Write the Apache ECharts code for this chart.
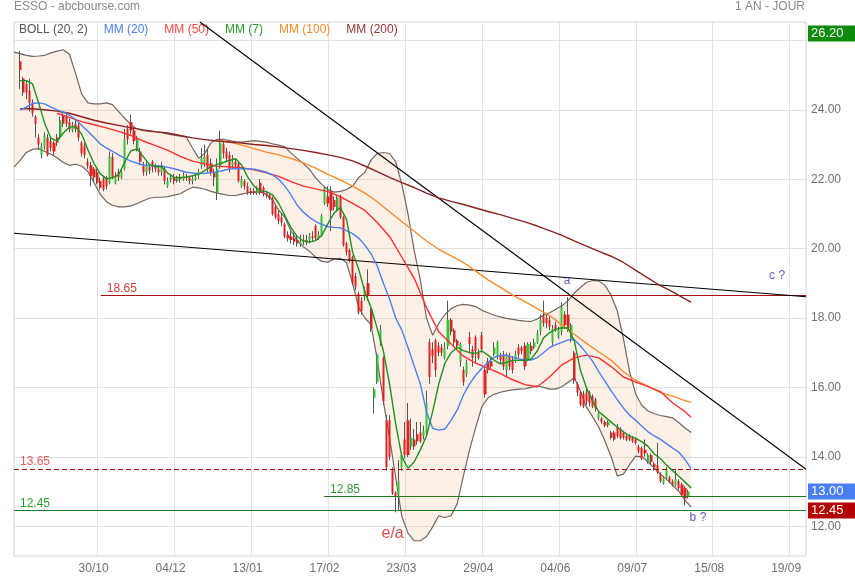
<!DOCTYPE html>
<html><head><meta charset="utf-8">
<script src="https://cdn.jsdelivr.net/npm/echarts@6/dist/echarts.min.js"></script>
<style>html,body{margin:0;padding:0;background:#fff}#c{width:855px;height:580px}</style>
</head><body><div id="c"></div>
<script>
// ---------- axis texts ----------
const dateLabels = ['30/10','04/12','13/01','17/02','23/03','29/04','04/06','09/07','15/08','19/09'];
const dateDays   = [27, 52, 77, 102, 127, 152, 177, 202, 227, 252];
const yTicks = [12, 14, 16, 18, 20, 22, 24, 26];
const yTickLabels = [12, 14, 16, 18, 20, 22, 24];

// ---------- daily candles [open, close, low, high], first at trading day 2 ----------
const firstCandleDay = 2;
const ohlc = [
[25.4,25.15,24.6,25.7],[24.9,24.5,24.4,24.95],[24.75,24.5,24.3,24.85],[24.55,24.2,23.95,24.9],[24.2,23.9,23.8,24.3],[23.8,23.6,23.2,23.85],[23.2,23.0,22.85,23.3],[22.7,22.95,22.6,23.05],[22.95,23.25,22.85,23.35],[23.2,22.7,22.65,23.3],
[23.1,22.9,22.8,23.2],[23.05,22.8,22.7,23.1],[23.2,23.05,22.95,23.3],[23.2,23.7,23.15,23.8],[23.85,23.6,23.5,23.95],[23.8,23.6,23.5,23.9],[23.65,23.45,23.35,23.75],[23.4,23.55,23.35,23.65],[23.6,23.45,23.35,23.7],[23.55,23.2,23.1,23.65],
[23.05,22.75,22.65,23.1],[22.95,22.7,22.6,23.05],[22.5,22.4,22.3,22.6],[22.4,22.1,21.8,22.5],[22.3,22.05,21.95,22.35],[22.2,21.9,21.85,22.3],[21.95,21.75,21.7,22.05],[22.0,21.7,21.65,22.1],[22.05,21.8,21.7,22.1],[21.9,22.65,21.85,22.8],
[22.65,22.05,22.0,22.75],[21.9,22.1,21.85,22.2],[22.2,22.05,21.95,22.3],[22.05,22.2,22.0,22.3],[22.3,23.15,22.25,23.45],[23.45,23.15,23.0,23.55],[23.65,23.4,23.3,23.85],[23.4,23.1,23.0,23.5],[22.85,23.15,22.8,23.25],[22.8,22.5,22.4,22.9],
[22.4,22.2,22.1,22.5],[22.2,22.4,22.1,22.5],[22.35,22.25,22.15,22.45],[22.5,22.35,22.2,22.55],[22.35,22.3,22.2,22.45],[22.3,22.2,22.1,22.4],[22.2,22.4,22.1,22.5],[22.3,21.95,21.85,22.35],[21.8,21.95,21.75,22.05],[22.0,22.05,21.9,22.15],
[22.05,21.95,21.85,22.15],[21.95,22.05,21.9,22.1],[22.05,22.0,21.9,22.15],[22.0,22.1,21.95,22.2],[22.1,22.05,21.95,22.15],[22.05,21.95,21.85,22.1],[21.95,22.0,21.85,22.1],[22.0,22.05,21.95,22.15],[22.1,22.2,22.0,22.3],[22.4,22.6,22.3,22.9],
[22.45,22.65,22.35,23.0],[22.7,22.3,22.2,22.85],[22.45,22.2,22.1,22.6],[22.2,22.05,21.8,22.3],[21.6,22.3,21.4,22.6],[22.35,23.05,22.3,23.4],[23.0,22.75,22.6,23.1],[22.8,22.6,22.5,22.9],[22.7,22.3,22.2,22.8],[22.4,22.5,22.3,22.7],
[22.5,22.4,22.3,22.6],[22.45,21.95,21.9,22.5],[21.8,22.0,21.75,22.1],[21.95,21.8,21.7,22.0],[21.8,21.6,21.55,21.9],[21.65,21.62,21.55,21.75],[21.65,21.6,21.55,21.75],[21.6,21.7,21.55,21.8],[21.9,21.6,21.55,22.0],[21.75,21.6,21.5,21.8],
[21.6,21.55,21.45,21.65],[21.55,21.45,21.4,21.6],[21.45,21.0,20.95,21.5],[21.2,20.9,20.85,21.25],[21.0,20.8,20.7,21.1],[20.9,20.75,20.65,21.0],[20.7,20.35,20.3,20.75],[20.4,20.3,20.2,20.5],[20.35,20.25,20.15,20.5],[20.3,20.2,20.1,20.45],
[20.25,20.15,20.05,20.4],[20.1,20.2,20.05,20.4],[20.2,20.25,20.1,20.4],[20.25,20.2,20.1,20.4],[20.25,20.35,20.15,20.45],[20.35,20.3,20.2,20.5],[20.65,20.3,20.25,20.7],[20.3,20.4,20.25,20.5],[20.4,20.95,20.35,21.0],[21.3,21.75,21.25,21.8],
[21.5,21.3,21.2,21.8],[21.65,21.1,20.5,21.8],[21.4,21.2,21.1,21.5],[21.15,21.48,21.1,21.55],[21.5,20.9,20.85,21.55],[20.9,20.1,20.05,20.95],[20.15,19.9,19.8,20.2],[19.95,19.65,19.6,20.0],[19.75,19.0,18.95,19.8],[19.2,18.9,18.8,19.3],
[18.7,18.15,18.1,18.75],[18.5,18.2,18.1,18.6],[18.6,18.8,18.5,18.9],[19.0,18.65,18.5,19.4],[18.25,17.7,17.6,18.3],[15.7,15.95,15.25,16.0],[16.15,16.95,16.1,17.0],[17.3,17.65,17.2,17.8],[16.85,15.6,15.5,16.9],[15.05,13.7,13.6,15.2],
[15.05,14.0,13.9,15.2],[13.65,12.95,12.9,13.7],[12.97,12.85,12.4,13.0],[12.9,13.3,12.45,13.9],[13.7,14.05,13.6,14.1],[14.5,14.05,13.95,15.0],[15.05,14.05,14.0,15.55],[14.3,14.55,14.2,15.1],[14.5,14.3,14.2,14.8],[14.65,14.45,14.35,15.0],
[14.7,14.45,14.4,15.0],[14.6,14.75,14.5,14.9],[14.7,15.55,14.65,15.9],[17.3,16.3,16.1,17.4],[17.1,16.9,16.7,17.3],[17.35,16.5,16.3,17.4],[17.2,17.0,16.9,17.3],[17.15,17.0,16.9,17.25],[16.85,17.15,16.8,17.3],[17.2,17.95,17.1,18.5],
[17.95,17.6,17.5,18.0],[17.65,17.3,17.2,17.7],[17.35,17.2,17.1,17.4],[16.75,17.25,16.6,17.3],[16.5,16.15,16.05,16.6],[16.4,16.7,16.3,16.8],[17.45,17.25,17.0,17.6],[17.1,16.85,16.6,17.2],[17.45,17.05,16.7,17.5],[17.0,16.85,16.8,17.1],
[17.5,17.1,17.0,17.6],[16.5,15.8,15.7,16.6],[16.75,16.5,16.4,16.85],[16.75,16.6,16.5,16.85],[16.95,17.15,16.9,17.3],[16.9,17.3,16.8,17.35],[16.9,16.8,16.7,17.0],[16.95,16.6,16.5,17.05],[16.5,16.95,16.3,17.0],[16.9,16.6,16.5,17.0],
[16.8,16.5,16.4,16.9],[16.8,16.95,16.7,17.05],[17.15,16.95,16.85,17.25],[17.15,17.05,16.95,17.2],[17.2,16.6,16.5,17.3],[16.8,17.25,16.75,17.3],[17.2,17.05,16.95,17.3],[17.15,17.3,17.1,17.4],[17.3,17.55,17.25,17.65],[17.6,17.95,17.5,18.1],
[18.05,17.85,17.75,18.5],[18.0,17.85,17.7,18.15],[17.95,17.75,17.65,18.05],[17.3,17.7,17.2,17.8],[17.8,17.65,17.6,17.9],[17.45,17.65,17.4,17.75],[17.6,18.3,17.5,18.45],[18.1,17.8,17.7,18.2],[18.1,17.7,17.6,18.6],[17.4,17.8,17.3,17.85],
[17.0,16.2,16.1,17.05],[16.1,15.85,15.75,16.15],[15.85,15.5,15.45,15.9],[15.8,15.45,15.4,15.9],[15.85,15.6,15.5,15.95],[15.85,15.55,15.45,15.9],[15.75,15.45,15.4,15.8],[15.65,15.4,15.3,15.7],[15.1,15.25,15.05,15.3],[15.1,15.0,14.95,15.15],
[15.0,14.9,14.85,15.05],[14.9,15.0,14.85,15.05],[14.7,14.55,14.5,14.75],[14.7,14.5,14.45,14.75],[14.85,14.6,14.55,14.95],[14.8,14.55,14.5,14.85],[14.7,14.55,14.5,14.75],[14.6,14.5,14.45,14.65],[14.6,14.5,14.45,14.65],[14.55,14.45,14.4,14.6],
[14.5,14.4,14.35,14.55],[14.3,14.15,14.1,14.35],[14.25,13.95,13.9,14.3],[14.2,14.1,14.0,14.5],[13.85,14.05,13.8,14.1],[14.05,13.85,13.75,14.1],[13.8,13.7,13.6,13.85],[13.75,13.55,13.5,14.4],[13.5,13.3,13.25,13.55],[13.25,13.4,13.2,13.45],
[13.4,13.65,13.35,13.7],[13.4,13.3,13.25,13.45],[13.3,13.2,13.15,13.35],[13.2,13.35,13.15,13.65],[13.3,13.1,13.05,13.35],[13.2,12.9,12.85,13.25],[13.1,12.8,12.6,13.15],[12.85,13.0,12.8,13.05]
];

// ---------- indicator readings (sampled trading days) ----------
function dayList(from, to, step) { const a = []; for (let d = from; d <= to; d += step) a.push(d); if (a[a.length - 1] !== to) a.push(to); return a; }
const bandDays  = dayList(0, 220, 2);
const fastDays  = dayList(2, 220, 2);
const mm200Days = dayList(2, 220, 4);
const mm50Days  = dayList(14, 220, 4);
const mm100Days = dayList(66, 220, 4);

const bollUpper = [
25.66,25.62,25.57,25.54,25.55,25.57,25.64,25.69,25.73,25.6,
25.05,24.45,24.2,24.17,24.17,24.2,24.15,23.95,23.75,23.58,
23.45,23.4,23.38,23.36,23.34,23.3,23.27,23.24,23.21,22.9,
22.6,22.75,23.05,23.15,23.15,23.11,23.08,23.07,23.09,23.11,
23.09,23.07,23.02,22.98,22.93,22.75,22.6,22.45,22.28,22.04,
21.85,21.7,21.63,21.65,21.7,21.8,22.05,22.2,22.55,22.74,
22.77,22.74,22.5,21.85,21.0,19.95,19.1,18.0,17.5,17.85,
18.1,18.27,18.36,18.39,18.37,18.33,18.22,18.15,18.08,18.03,
17.99,17.96,17.93,17.91,17.9,17.97,18.08,18.15,18.25,18.35,
18.5,18.72,18.88,19.03,19.08,19.07,18.94,18.65,18.2,17.4,
16.45,15.8,15.48,15.32,15.24,15.19,15.16,15.12,14.98,14.83,
14.7];
const bollLower = [
22.35,22.54,22.77,22.86,22.88,22.8,22.72,22.62,22.48,22.4,
22.43,22.38,22.22,21.9,21.57,21.35,21.25,21.2,21.2,21.23,
21.3,21.38,21.45,21.48,21.48,21.5,21.54,21.58,21.68,21.77,
21.75,21.71,21.65,21.6,21.56,21.53,21.53,21.57,21.61,21.63,
21.63,21.56,21.4,21.1,20.9,20.5,20.25,20.05,19.92,19.75,
19.63,19.61,19.7,19.72,19.6,19.0,18.3,18.0,17.8,16.8,
15.6,14.55,13.4,12.28,11.8,11.58,11.58,11.7,11.98,12.3,
12.25,12.3,12.65,13.45,14.2,14.85,15.45,15.7,15.8,15.86,
15.9,15.93,15.95,15.96,16.0,16.04,16.0,15.95,15.95,16.02,
16.15,16.28,15.9,15.43,15.15,14.85,14.45,14.0,13.45,13.5,
13.78,14.02,14.0,13.85,13.68,13.5,13.35,13.18,13.0,12.75,
12.55];
const mm7 = [
24.84,24.84,24.75,24.2,23.6,23.18,23.1,23.33,23.5,23.52,
23.3,22.85,22.45,22.16,22.01,22.04,22.13,22.5,22.82,22.87,
22.65,22.42,22.36,22.36,22.17,22.06,22.05,22.06,22.1,22.15,
22.25,22.36,22.42,22.48,22.54,22.59,22.4,22.05,21.8,21.67,
21.64,21.55,21.3,20.95,20.6,20.35,20.22,20.19,20.23,20.38,
20.72,21.03,21.18,20.85,19.9,19.4,18.75,18.3,17.7,17.05,
16.1,14.95,14.0,13.67,13.85,14.2,14.6,15.3,16.1,16.7,
17.0,17.15,17.06,17.0,16.98,17.05,16.93,16.78,16.68,16.72,
16.78,16.78,16.78,16.82,17.05,17.42,17.58,17.67,17.72,17.71,
17.35,16.5,15.98,15.6,15.3,15.15,15.0,14.85,14.72,14.6,
14.53,14.43,14.3,14.08,13.95,13.76,13.6,13.44,13.27,13.1];
const mm20 = [
23.99,24.08,24.18,24.2,24.17,24.08,24.0,23.93,23.85,23.72,
23.55,23.38,23.2,23.02,22.9,22.8,22.7,22.6,22.52,22.46,
22.41,22.39,22.39,22.38,22.34,22.3,22.25,22.2,22.18,22.16,
22.17,22.19,22.21,22.25,22.29,22.3,22.3,22.3,22.29,22.25,
22.2,22.12,22.0,21.8,21.55,21.25,21.05,20.9,20.78,20.7,
20.63,20.61,20.6,20.52,20.43,20.3,20.1,19.85,19.5,19.0,
18.55,18.0,17.65,17.15,16.62,16.1,15.3,14.82,14.77,14.8,
15.05,15.35,15.78,16.1,16.35,16.55,16.72,16.87,16.92,16.93,
16.87,16.82,16.79,16.79,16.86,17.0,17.15,17.23,17.3,17.37,
17.38,17.2,16.98,16.75,16.45,16.18,15.9,15.65,15.4,15.2,
15.05,14.88,14.72,14.6,14.5,14.38,14.25,14.13,13.92,13.66];
const mm50 = [
23.9,23.78,23.66,23.57,23.48,23.38,23.26,23.1,22.97,22.83,
22.66,22.52,22.44,22.37,22.36,22.33,22.27,22.18,22.08,21.93,
21.8,21.72,21.64,21.5,21.3,21.1,20.75,20.35,19.75,19.15,
18.3,17.6,17.25,16.9,16.7,16.55,16.4,16.22,16.08,16.02,
16.3,16.65,16.85,16.93,16.85,16.6,16.3,16.15,16.02,15.88,
15.55,15.3,15.14];
const mm100 = [
23.12,23.07,22.98,22.88,22.78,22.7,22.6,22.47,22.32,22.14,
21.98,21.8,21.6,21.35,21.06,20.78,20.5,20.22,19.98,19.79,
19.6,19.35,19.1,18.88,18.66,18.47,18.27,18.07,17.8,17.53,
17.27,17.02,16.78,16.45,16.2,16.03,15.85,15.75,15.62,15.57];
const mm200 = [
24.03,24.03,24.0,23.96,23.9,23.8,23.7,23.62,23.55,23.48,
23.42,23.37,23.33,23.26,23.19,23.14,23.1,23.07,23.04,23.0,
22.97,22.93,22.88,22.83,22.77,22.7,22.63,22.53,22.38,22.22,
22.05,21.9,21.76,21.6,21.46,21.36,21.27,21.17,21.07,20.98,
20.87,20.77,20.65,20.52,20.38,20.22,20.07,19.92,19.78,19.6,
19.37,19.15,18.93,18.75,18.55,18.46];

// ---------- drawn levels / trend lines / notes ----------
const xMax = 257.3, yMin = 11.141, yMax = 26.53;
const levelValues = [18.65, 13.65, 12.85, 12.45];
const levelStartDays = [28.2, 0, 100.7, 0];
const trendA = [[60.4, 26.53], [257.3, 13.64]];
const trendB = [[0, 20.44], [257.3, 18.61]];
const tagValues = [26.20, 13.00, 12.45];
const noteTexts = ['a', 'b ?', 'c ?', 'e/a'];
const noteDays  = [179.7, 222.2, 247.9, 123.0];
const noteValues= [19.07, 12.24, 19.21, 11.80];

// ---------- build ----------
const pairs = (days, vals) => vals.map((v, k) => [days[k], v]);
const candleData = ohlc.map((d, k) => [firstCandleDay + k, d[0], d[1], d[2], d[3]]);
const FONT = "'Liberation Sans', Arial, Helvetica, sans-serif";

function maLine(name, days, vals, color) {
  return { name, type: 'line', data: pairs(days, vals), symbol: 'none', showSymbol: false,
    lineStyle: { color, width: 1.4 }, itemStyle: { color }, silent: true, z: 5 };
}
const lvlStyles = [
  { line: { color: '#a81010', width: 1, type: 'solid' }, text: '#d43a3a' },
  { line: { color: '#a81010', width: 1, type: [5, 3] }, text: '#e25b5b' },
  { line: { color: '#1c7c1c', width: 1, type: 'solid' }, text: '#2e9c2e' },
  { line: { color: '#1c7c1c', width: 1, type: 'solid' }, text: '#2e9c2e' }
];
const markData = levelValues.map((v, k) => [
  { coord: [levelStartDays[k], v], lineStyle: lvlStyles[k].line,
    label: { show: true, position: 'insideStartTop', formatter: v.toFixed(2), color: lvlStyles[k].text, fontSize: 12, distance: [6, 1] } },
  { coord: [xMax, v] }
]);
markData.push([{ coord: trendA[0], lineStyle: { color: '#000', width: 1.1, type: 'solid' }, label: { show: false } }, { coord: trendA[1] }]);
markData.push([{ coord: trendB[0], lineStyle: { color: '#000', width: 1.1, type: 'solid' }, label: { show: false } }, { coord: trendB[1] }]);

const tagColors = ['#0b8a0b', '#4a7ff3', '#b30000'];
const tagData = tagValues.map((v, k) => ({ yAxis: v, lineStyle: { color: 'rgba(0,0,0,0)', width: 1 },
  label: { show: true, position: 'end', formatter: v.toFixed(2), color: '#fff', backgroundColor: tagColors[k],
           padding: [2, 14, 1, 3], fontSize: 13, distance: 2 } }));

const noteColors = ['#34349c', '#34349c', '#34349c', '#cc2222'];
const noteSizes = [12, 12, 12, 16];
const noteData = noteTexts.map((t, k) => ({ value: [noteDays[k], noteValues[k]],
  label: { show: true, position: 'inside', formatter: t, color: noteColors[k], fontSize: noteSizes[k] } }));

const option = {
  animation: false,
  textStyle: { fontFamily: FONT },
  title: [
    { text: 'ESSO - abcbourse.com', left: 14, top: 1, padding: 0, textStyle: { fontSize: 12, fontWeight: 'normal', color: '#8a8a8a', fontFamily: FONT } },
    { text: '1 AN - JOUR', right: 50, top: 1, padding: 0, textStyle: { fontSize: 12, fontWeight: 'normal', color: '#8a8a8a', fontFamily: FONT } }
  ],
  legend: {
    left: 14, top: 24, padding: 0, itemWidth: 0, itemHeight: 0, itemGap: 10, selectedMode: false,
    textStyle: { fontSize: 12, fontFamily: FONT },
    data: [
      { name: 'BOLL (20, 2)', textStyle: { color: '#555' } },
      { name: 'MM (20)', textStyle: { color: '#4c7ff0' } },
      { name: 'MM (50)', textStyle: { color: '#ff4444' } },
      { name: 'MM (7)', textStyle: { color: '#229922' } },
      { name: 'MM (100)', textStyle: { color: '#ff8a2a' } },
      { name: 'MM (200)', textStyle: { color: '#993333' } }
    ]
  },
  grid: { left: 14, right: 49, top: 22, bottom: 24, show: true, borderColor: '#d4d4d4', borderWidth: 1, containLabel: false },
  xAxis: {
    type: 'value', min: 0, max: xMax,
    axisLine: { show: false }, axisTick: { show: false, customValues: dateDays },
    axisLabel: { customValues: dateDays, formatter: v => dateLabels[dateDays.indexOf(v)] || '', color: '#707070', fontSize: 12, margin: 7, padding: [0, 7, 0, 0] },
    splitLine: { show: true, lineStyle: { color: '#e2e2e2', width: 1 } }
  },
  yAxis: {
    type: 'value', position: 'right', min: yMin, max: yMax, scale: true,
    axisLine: { show: false }, axisTick: { show: false, customValues: yTicks },
    axisLabel: { customValues: yTickLabels, formatter: v => v.toFixed(2), color: '#707070', fontSize: 12, margin: 5, padding: [0, 0, 3, 0] },
    splitLine: { show: true, lineStyle: { color: '#e2e2e2', width: 1 } }
  },
  series: [
    { name: 'BOLL (20, 2)', type: 'custom', coordinateSystem: 'cartesian2d', silent: true, z: 1,
      data: [[bandDays[0], bollUpper[0]]], encode: { x: 0, y: 1 },
      renderItem: (params, api) => {
        const pts = [];
        bandDays.forEach((d, k) => pts.push(api.coord([d, bollUpper[k]])));
        for (let k = bandDays.length - 1; k >= 0; k--) pts.push(api.coord([bandDays[k], bollLower[k]]));
        return { type: 'polygon', shape: { points: pts }, style: { fill: 'rgba(244,178,130,0.2)', stroke: null } };
      } },
    { type: 'line', data: pairs(bandDays, bollUpper), symbol: 'none', lineStyle: { color: '#746560', width: 1.2 }, silent: true, z: 2 },
    { type: 'line', data: pairs(bandDays, bollLower), symbol: 'none', lineStyle: { color: '#746560', width: 1.2 }, silent: true, z: 2 },
    { type: 'candlestick', data: candleData, encode: { x: 0, y: [1, 2, 3, 4] }, barWidth: 1, silent: true, z: 3,
      itemStyle: { color: '#555', color0: '#555', borderColor: '#555', borderColor0: '#555', borderWidth: 1 } },
    { type: 'candlestick', data: candleData, encode: { x: 0, y: [1, 2, 3, 4] }, barWidth: 2.6, silent: true, z: 4,
      itemStyle: { color: '#36c436', color0: '#e02222', borderColor: '#36c436', borderColor0: '#e02222', borderWidth: 0 } },
    maLine('MM (100)', mm100Days, mm100, '#ff8a2a'),
    maLine('MM (200)', mm200Days, mm200, '#8e2020'),
    maLine('MM (50)', mm50Days, mm50, '#ff3030'),
    maLine('MM (20)', fastDays, mm20, '#4c7ff0'),
    maLine('MM (7)', fastDays, mm7, '#1f8f1f'),
    { type: 'scatter', data: noteData, symbolSize: 1, itemStyle: { color: 'rgba(0,0,0,0)' }, silent: true, z: 8,
      markLine: { symbol: 'none', silent: true, animation: false, data: markData } },
    { type: 'line', data: [], silent: true, z: 9,
      markLine: { symbol: 'none', silent: true, animation: false, data: tagData } }
  ]
};
const chart = echarts.init(document.getElementById('c'), null, { renderer: 'canvas' });
chart.setOption(option);
</script>
</body></html>
